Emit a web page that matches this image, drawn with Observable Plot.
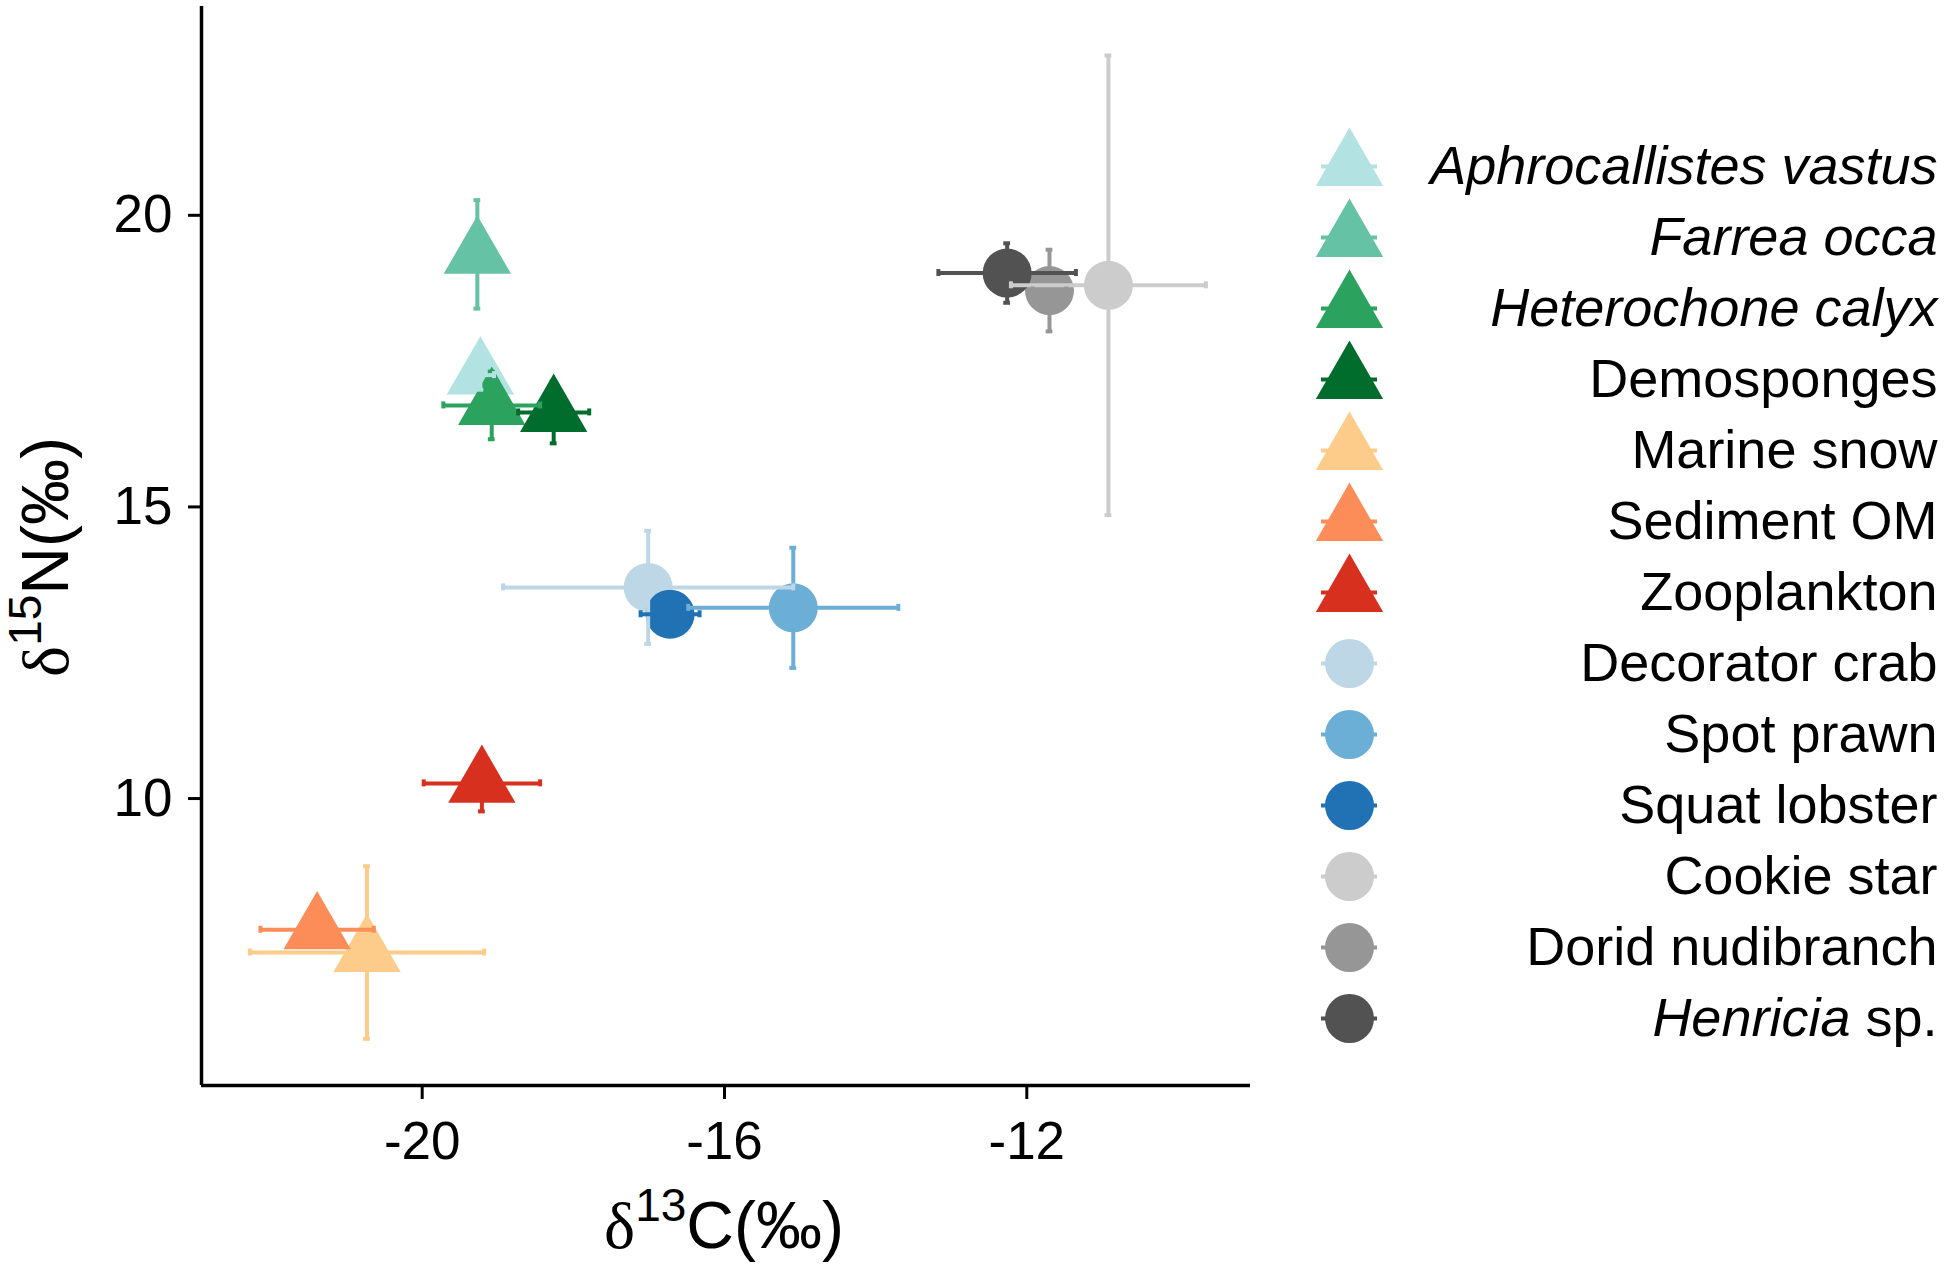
<!DOCTYPE html>
<html><head><meta charset="utf-8">
<script src="https://cdn.jsdelivr.net/npm/d3@7"></script>
<script src="https://cdn.jsdelivr.net/npm/@observablehq/plot@0.6"></script>
<style>
body{margin:0;background:#fff;}
#wrap{position:relative;width:1950px;height:1272px;font-family:"Liberation Sans",Arial,sans-serif;background:#fff;}
#wrap svg{position:absolute;top:0;}
</style></head><body><div id="wrap"></div>
<script>
const species = ["Aphrocallistes vastus","Farrea occa","Heterochone calyx","Demosponges","Marine snow","Sediment OM","Zooplankton","Decorator crab","Spot prawn","Squat lobster","Cookie star","Dorid nudibranch","Henricia sp."];
const shapes = ["triangle","triangle","triangle","triangle","triangle","triangle","triangle","circle","circle","circle","circle","circle","circle"];
const colors = ["#b2e2e2","#66c2a4","#2ca25f","#006d2c","#fdcc8a","#fc8d59","#d7301f","#bdd7e7","#6baed6","#2171b5","#cccccc","#969696","#525252"];
const d13C = [-19.23,-19.27,-19.08,-18.26,-20.73,-21.39,-19.21,-17.01,-15.09,-16.72,-10.92,-11.70,-12.26];
const d15N = [17.26,19.33,16.74,16.62,7.36,7.75,10.26,13.62,13.27,13.16,18.80,18.71,19.01];
const sdC = [0.18,0.18,0.64,0.47,1.55,0.75,0.77,1.92,1.39,0.39,1.29,0.22,0.91];
const sdN = [0.25,0.93,0.58,0.53,1.48,0.25,0.48,0.97,1.03,0.30,3.94,0.70,0.51];
const xTicks = [-20,-16,-12];
const yTicks = [10,15,20];
const italicNames = ["Aphrocallistes vastus","Farrea occa","Heterochone calyx"];
const xDomain = [-22.92,-9.04];
const yDomain = [5.08,23.58];

const FONT = '"Liberation Sans",Arial,sans-serif';
const rows = species.map((s,i)=>({species:s, shape:shapes[i], x:d13C[i], y:d15N[i],
  xlo:d13C[i]-sdC[i], xhi:d13C[i]+sdC[i], ylo:d15N[i]-sdN[i], yhi:d15N[i]+sdN[i]}));
const tri = rows.filter(d=>d.shape==="triangle");
const cir = rows.filter(d=>d.shape==="circle");
const color = {domain: species, range: colors};
const capX = 0.045, capY = 0.06, ew = 4;

const main = Plot.plot({
  width:1300, height:1272, marginLeft:201, marginRight:50, marginTop:6, marginBottom:187,
  style:{fontFamily:FONT, fontSize:"53px", color:"#000", background:"transparent", overflow:"visible"},
  x:{domain:xDomain}, y:{domain:yDomain}, color,
  marks:[
    Plot.dot(tri,{x:"x", y:"y", symbol:"triangle", r:25, fill:"species"}),
    Plot.dot(cir,{x:"x", y:"y", symbol:"circle", r:24.5, fill:"species"}),
    Plot.ruleX(rows,{x:"x", y1:"ylo", y2:"yhi", stroke:"species", strokeWidth:ew}),
    Plot.ruleY(rows,{y:"ylo", x1:d=>d.x-capX, x2:d=>d.x+capX, stroke:"species", strokeWidth:ew}),
    Plot.ruleY(rows,{y:"yhi", x1:d=>d.x-capX, x2:d=>d.x+capX, stroke:"species", strokeWidth:ew}),
    Plot.ruleY(rows,{y:"y", x1:"xlo", x2:"xhi", stroke:"species", strokeWidth:ew}),
    Plot.ruleX(rows,{x:"xlo", y1:d=>d.y-capY, y2:d=>d.y+capY, stroke:"species", strokeWidth:ew}),
    Plot.ruleX(rows,{x:"xhi", y1:d=>d.y-capY, y2:d=>d.y+capY, stroke:"species", strokeWidth:ew}),
    Plot.axisX({ticks:xTicks, tickSize:14, tickPadding:22, tickFormat:d=>String(d), strokeWidth:3, label:null, fontSize:53}),
    Plot.axisY({ticks:yTicks, tickSize:13, tickPadding:16, tickFormat:d=>String(d), strokeWidth:3, label:null, fontSize:53}),
    Plot.ruleX([xDomain[0]],{stroke:"#000", strokeWidth:3.5}),
    Plot.ruleY([yDomain[0]],{stroke:"#000", strokeWidth:3.5})
  ]
});
main.style.left = "0px";
document.getElementById("wrap").appendChild(main);

// axis titles with superscripts
const ms = d3.select(main);
function title(g, sup, letter){
  const t = g.append("text").attr("text-anchor","middle").attr("font-size",66).attr("fill","#000").attr("font-family",FONT);
  t.append("tspan").attr("font-family",'"Liberation Serif","DejaVu Serif",serif').text("δ");
  t.append("tspan").attr("font-size",46).attr("dy",-27).text(sup);
  t.append("tspan").attr("dy",27).text(letter+"(‰)");
  return t;
}
title(ms.append("g").attr("transform","translate(724,1248)"),"13","C");
title(ms.append("g").attr("transform","translate(68,557) rotate(-90)"),"15","N");

// legend
const triNames = species.filter((s,i)=>shapes[i]==="triangle");
const cirNames = species.filter((s,i)=>shapes[i]==="circle");
const legend = Plot.plot({
  width:650, height:1272, margin:0,
  style:{fontFamily:FONT, color:"#000", background:"transparent", overflow:"visible"},
  x:{type:"identity", axis:null},
  y:{type:"point", domain:species, range:[164,1020], padding:0, axis:null},
  color,
  marks:[
    Plot.ruleY(species,{y:d=>d, x1:21, x2:77, stroke:d=>d, strokeWidth:4}),
    Plot.dot(triNames,{x:49, y:d=>d, symbol:"triangle", r:25, fill:d=>d}),
    Plot.dot(cirNames,{x:49, y:d=>d, symbol:"circle", r:24.5, fill:d=>d}),
    Plot.text(species,{x:637, y:d=>d, text:d=>d, textAnchor:"end", fontSize:54, fill:"#000"})
  ]
});
legend.style.left = "1300px";
document.getElementById("wrap").appendChild(legend);
d3.select(legend).selectAll("text").each(function(){
  const s = this.textContent;
  if (italicNames.includes(s)) this.setAttribute("font-style","italic");
  else if (s === "Henricia sp.") {
    this.textContent = "";
    const a = document.createElementNS("http://www.w3.org/2000/svg","tspan");
    a.setAttribute("font-style","italic"); a.textContent = "Henricia";
    const b = document.createElementNS("http://www.w3.org/2000/svg","tspan");
    b.textContent = " sp.";
    this.appendChild(a); this.appendChild(b);
  }
});
</script></body></html>
